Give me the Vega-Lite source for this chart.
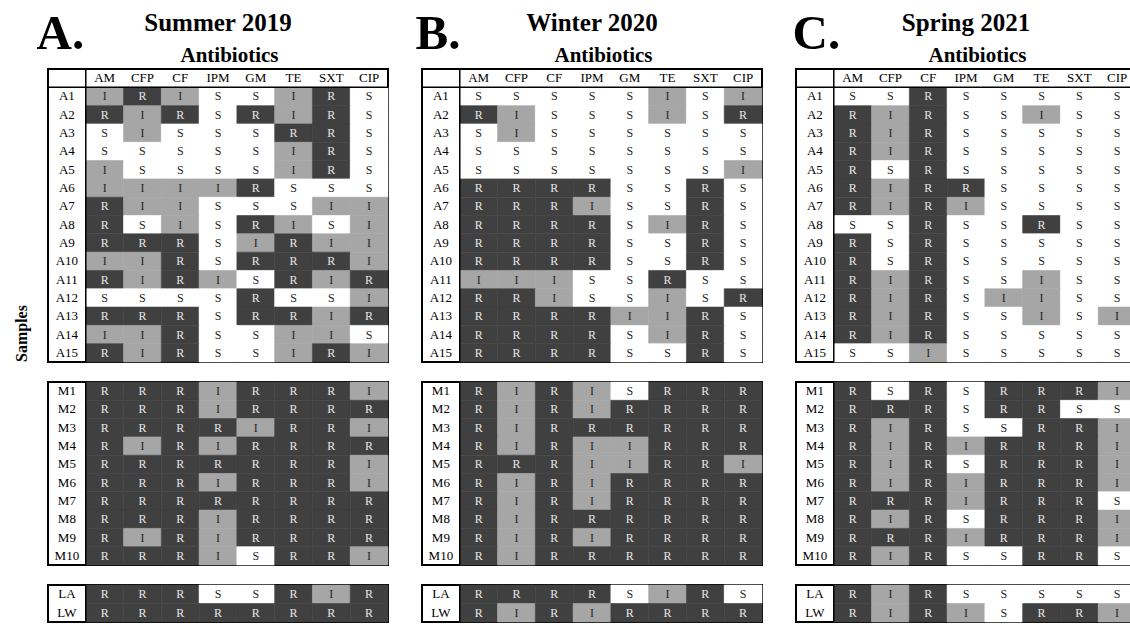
{
  "$schema": "https://vega.github.io/schema/vega-lite/v6.json",
  "background": "white",
  "padding": {"left": 12, "top": 8, "right": 0, "bottom": 0},
  "bounds": "flush",
  "columns": 3,
  "spacing": {"row": 20, "column": 34},
  "datasets": {
    "abx": [{"ab": "AM"}, {"ab": "CFP"}, {"ab": "CF"}, {"ab": "IPM"}, {"ab": "GM"}, {"ab": "TE"}, {"ab": "SXT"}, {"ab": "CIP"}],
    "ast": [
      {"season": "Summer 2019", "block": "A", "sample": "A1", "AM": "I", "CFP": "R", "CF": "I", "IPM": "S", "GM": "S", "TE": "I", "SXT": "R", "CIP": "S"},
      {"season": "Summer 2019", "block": "A", "sample": "A2", "AM": "R", "CFP": "I", "CF": "R", "IPM": "S", "GM": "R", "TE": "I", "SXT": "R", "CIP": "S"},
      {"season": "Summer 2019", "block": "A", "sample": "A3", "AM": "S", "CFP": "I", "CF": "S", "IPM": "S", "GM": "S", "TE": "R", "SXT": "R", "CIP": "S"},
      {"season": "Summer 2019", "block": "A", "sample": "A4", "AM": "S", "CFP": "S", "CF": "S", "IPM": "S", "GM": "S", "TE": "I", "SXT": "R", "CIP": "S"},
      {"season": "Summer 2019", "block": "A", "sample": "A5", "AM": "I", "CFP": "S", "CF": "S", "IPM": "S", "GM": "S", "TE": "I", "SXT": "R", "CIP": "S"},
      {"season": "Summer 2019", "block": "A", "sample": "A6", "AM": "I", "CFP": "I", "CF": "I", "IPM": "I", "GM": "R", "TE": "S", "SXT": "S", "CIP": "S"},
      {"season": "Summer 2019", "block": "A", "sample": "A7", "AM": "R", "CFP": "I", "CF": "I", "IPM": "S", "GM": "S", "TE": "S", "SXT": "I", "CIP": "I"},
      {"season": "Summer 2019", "block": "A", "sample": "A8", "AM": "R", "CFP": "S", "CF": "I", "IPM": "S", "GM": "R", "TE": "I", "SXT": "S", "CIP": "I"},
      {"season": "Summer 2019", "block": "A", "sample": "A9", "AM": "R", "CFP": "R", "CF": "R", "IPM": "S", "GM": "I", "TE": "R", "SXT": "I", "CIP": "I"},
      {"season": "Summer 2019", "block": "A", "sample": "A10", "AM": "I", "CFP": "I", "CF": "R", "IPM": "S", "GM": "R", "TE": "R", "SXT": "R", "CIP": "I"},
      {"season": "Summer 2019", "block": "A", "sample": "A11", "AM": "R", "CFP": "I", "CF": "R", "IPM": "I", "GM": "S", "TE": "R", "SXT": "I", "CIP": "R"},
      {"season": "Summer 2019", "block": "A", "sample": "A12", "AM": "S", "CFP": "S", "CF": "S", "IPM": "S", "GM": "R", "TE": "S", "SXT": "S", "CIP": "I"},
      {"season": "Summer 2019", "block": "A", "sample": "A13", "AM": "R", "CFP": "R", "CF": "R", "IPM": "S", "GM": "R", "TE": "R", "SXT": "I", "CIP": "R"},
      {"season": "Summer 2019", "block": "A", "sample": "A14", "AM": "I", "CFP": "I", "CF": "R", "IPM": "S", "GM": "S", "TE": "I", "SXT": "I", "CIP": "S"},
      {"season": "Summer 2019", "block": "A", "sample": "A15", "AM": "R", "CFP": "I", "CF": "R", "IPM": "S", "GM": "S", "TE": "I", "SXT": "R", "CIP": "I"},
      {"season": "Summer 2019", "block": "M", "sample": "M1", "AM": "R", "CFP": "R", "CF": "R", "IPM": "I", "GM": "R", "TE": "R", "SXT": "R", "CIP": "I"},
      {"season": "Summer 2019", "block": "M", "sample": "M2", "AM": "R", "CFP": "R", "CF": "R", "IPM": "I", "GM": "R", "TE": "R", "SXT": "R", "CIP": "R"},
      {"season": "Summer 2019", "block": "M", "sample": "M3", "AM": "R", "CFP": "R", "CF": "R", "IPM": "R", "GM": "I", "TE": "R", "SXT": "R", "CIP": "I"},
      {"season": "Summer 2019", "block": "M", "sample": "M4", "AM": "R", "CFP": "I", "CF": "R", "IPM": "I", "GM": "R", "TE": "R", "SXT": "R", "CIP": "R"},
      {"season": "Summer 2019", "block": "M", "sample": "M5", "AM": "R", "CFP": "R", "CF": "R", "IPM": "R", "GM": "R", "TE": "R", "SXT": "R", "CIP": "I"},
      {"season": "Summer 2019", "block": "M", "sample": "M6", "AM": "R", "CFP": "R", "CF": "R", "IPM": "I", "GM": "R", "TE": "R", "SXT": "R", "CIP": "I"},
      {"season": "Summer 2019", "block": "M", "sample": "M7", "AM": "R", "CFP": "R", "CF": "R", "IPM": "R", "GM": "R", "TE": "R", "SXT": "R", "CIP": "R"},
      {"season": "Summer 2019", "block": "M", "sample": "M8", "AM": "R", "CFP": "R", "CF": "R", "IPM": "I", "GM": "R", "TE": "R", "SXT": "R", "CIP": "R"},
      {"season": "Summer 2019", "block": "M", "sample": "M9", "AM": "R", "CFP": "I", "CF": "R", "IPM": "I", "GM": "R", "TE": "R", "SXT": "R", "CIP": "R"},
      {"season": "Summer 2019", "block": "M", "sample": "M10", "AM": "R", "CFP": "R", "CF": "R", "IPM": "I", "GM": "S", "TE": "R", "SXT": "R", "CIP": "I"},
      {"season": "Summer 2019", "block": "L", "sample": "LA", "AM": "R", "CFP": "R", "CF": "R", "IPM": "S", "GM": "S", "TE": "R", "SXT": "I", "CIP": "R"},
      {"season": "Summer 2019", "block": "L", "sample": "LW", "AM": "R", "CFP": "R", "CF": "R", "IPM": "R", "GM": "R", "TE": "R", "SXT": "R", "CIP": "R"},
      {"season": "Winter 2020", "block": "A", "sample": "A1", "AM": "S", "CFP": "S", "CF": "S", "IPM": "S", "GM": "S", "TE": "I", "SXT": "S", "CIP": "I"},
      {"season": "Winter 2020", "block": "A", "sample": "A2", "AM": "R", "CFP": "I", "CF": "S", "IPM": "S", "GM": "S", "TE": "I", "SXT": "S", "CIP": "R"},
      {"season": "Winter 2020", "block": "A", "sample": "A3", "AM": "S", "CFP": "I", "CF": "S", "IPM": "S", "GM": "S", "TE": "S", "SXT": "S", "CIP": "S"},
      {"season": "Winter 2020", "block": "A", "sample": "A4", "AM": "S", "CFP": "S", "CF": "S", "IPM": "S", "GM": "S", "TE": "S", "SXT": "S", "CIP": "S"},
      {"season": "Winter 2020", "block": "A", "sample": "A5", "AM": "S", "CFP": "S", "CF": "S", "IPM": "S", "GM": "S", "TE": "S", "SXT": "S", "CIP": "I"},
      {"season": "Winter 2020", "block": "A", "sample": "A6", "AM": "R", "CFP": "R", "CF": "R", "IPM": "R", "GM": "S", "TE": "S", "SXT": "R", "CIP": "S"},
      {"season": "Winter 2020", "block": "A", "sample": "A7", "AM": "R", "CFP": "R", "CF": "R", "IPM": "I", "GM": "S", "TE": "S", "SXT": "R", "CIP": "S"},
      {"season": "Winter 2020", "block": "A", "sample": "A8", "AM": "R", "CFP": "R", "CF": "R", "IPM": "R", "GM": "S", "TE": "I", "SXT": "R", "CIP": "S"},
      {"season": "Winter 2020", "block": "A", "sample": "A9", "AM": "R", "CFP": "R", "CF": "R", "IPM": "R", "GM": "S", "TE": "S", "SXT": "R", "CIP": "S"},
      {"season": "Winter 2020", "block": "A", "sample": "A10", "AM": "R", "CFP": "R", "CF": "R", "IPM": "R", "GM": "S", "TE": "S", "SXT": "R", "CIP": "S"},
      {"season": "Winter 2020", "block": "A", "sample": "A11", "AM": "I", "CFP": "I", "CF": "I", "IPM": "S", "GM": "S", "TE": "R", "SXT": "S", "CIP": "S"},
      {"season": "Winter 2020", "block": "A", "sample": "A12", "AM": "R", "CFP": "R", "CF": "I", "IPM": "S", "GM": "S", "TE": "I", "SXT": "S", "CIP": "R"},
      {"season": "Winter 2020", "block": "A", "sample": "A13", "AM": "R", "CFP": "R", "CF": "R", "IPM": "R", "GM": "I", "TE": "I", "SXT": "R", "CIP": "S"},
      {"season": "Winter 2020", "block": "A", "sample": "A14", "AM": "R", "CFP": "R", "CF": "R", "IPM": "R", "GM": "S", "TE": "I", "SXT": "R", "CIP": "S"},
      {"season": "Winter 2020", "block": "A", "sample": "A15", "AM": "R", "CFP": "R", "CF": "R", "IPM": "R", "GM": "S", "TE": "S", "SXT": "R", "CIP": "S"},
      {"season": "Winter 2020", "block": "M", "sample": "M1", "AM": "R", "CFP": "I", "CF": "R", "IPM": "I", "GM": "S", "TE": "R", "SXT": "R", "CIP": "R"},
      {"season": "Winter 2020", "block": "M", "sample": "M2", "AM": "R", "CFP": "I", "CF": "R", "IPM": "I", "GM": "R", "TE": "R", "SXT": "R", "CIP": "R"},
      {"season": "Winter 2020", "block": "M", "sample": "M3", "AM": "R", "CFP": "I", "CF": "R", "IPM": "R", "GM": "R", "TE": "R", "SXT": "R", "CIP": "R"},
      {"season": "Winter 2020", "block": "M", "sample": "M4", "AM": "R", "CFP": "I", "CF": "R", "IPM": "I", "GM": "I", "TE": "R", "SXT": "R", "CIP": "R"},
      {"season": "Winter 2020", "block": "M", "sample": "M5", "AM": "R", "CFP": "R", "CF": "R", "IPM": "I", "GM": "I", "TE": "R", "SXT": "R", "CIP": "I"},
      {"season": "Winter 2020", "block": "M", "sample": "M6", "AM": "R", "CFP": "I", "CF": "R", "IPM": "I", "GM": "R", "TE": "R", "SXT": "R", "CIP": "R"},
      {"season": "Winter 2020", "block": "M", "sample": "M7", "AM": "R", "CFP": "I", "CF": "R", "IPM": "I", "GM": "R", "TE": "R", "SXT": "R", "CIP": "R"},
      {"season": "Winter 2020", "block": "M", "sample": "M8", "AM": "R", "CFP": "I", "CF": "R", "IPM": "R", "GM": "R", "TE": "R", "SXT": "R", "CIP": "R"},
      {"season": "Winter 2020", "block": "M", "sample": "M9", "AM": "R", "CFP": "I", "CF": "R", "IPM": "I", "GM": "R", "TE": "R", "SXT": "R", "CIP": "R"},
      {"season": "Winter 2020", "block": "M", "sample": "M10", "AM": "R", "CFP": "I", "CF": "R", "IPM": "R", "GM": "R", "TE": "R", "SXT": "R", "CIP": "R"},
      {"season": "Winter 2020", "block": "L", "sample": "LA", "AM": "R", "CFP": "R", "CF": "R", "IPM": "R", "GM": "S", "TE": "I", "SXT": "R", "CIP": "S"},
      {"season": "Winter 2020", "block": "L", "sample": "LW", "AM": "R", "CFP": "I", "CF": "R", "IPM": "I", "GM": "R", "TE": "R", "SXT": "R", "CIP": "R"},
      {"season": "Spring 2021", "block": "A", "sample": "A1", "AM": "S", "CFP": "S", "CF": "R", "IPM": "S", "GM": "S", "TE": "S", "SXT": "S", "CIP": "S"},
      {"season": "Spring 2021", "block": "A", "sample": "A2", "AM": "R", "CFP": "I", "CF": "R", "IPM": "S", "GM": "S", "TE": "I", "SXT": "S", "CIP": "S"},
      {"season": "Spring 2021", "block": "A", "sample": "A3", "AM": "R", "CFP": "I", "CF": "R", "IPM": "S", "GM": "S", "TE": "S", "SXT": "S", "CIP": "S"},
      {"season": "Spring 2021", "block": "A", "sample": "A4", "AM": "R", "CFP": "I", "CF": "R", "IPM": "S", "GM": "S", "TE": "S", "SXT": "S", "CIP": "S"},
      {"season": "Spring 2021", "block": "A", "sample": "A5", "AM": "R", "CFP": "S", "CF": "R", "IPM": "S", "GM": "S", "TE": "S", "SXT": "S", "CIP": "S"},
      {"season": "Spring 2021", "block": "A", "sample": "A6", "AM": "R", "CFP": "I", "CF": "R", "IPM": "R", "GM": "S", "TE": "S", "SXT": "S", "CIP": "S"},
      {"season": "Spring 2021", "block": "A", "sample": "A7", "AM": "R", "CFP": "I", "CF": "R", "IPM": "I", "GM": "S", "TE": "S", "SXT": "S", "CIP": "S"},
      {"season": "Spring 2021", "block": "A", "sample": "A8", "AM": "S", "CFP": "S", "CF": "R", "IPM": "S", "GM": "S", "TE": "R", "SXT": "S", "CIP": "S"},
      {"season": "Spring 2021", "block": "A", "sample": "A9", "AM": "R", "CFP": "S", "CF": "R", "IPM": "S", "GM": "S", "TE": "S", "SXT": "S", "CIP": "S"},
      {"season": "Spring 2021", "block": "A", "sample": "A10", "AM": "R", "CFP": "S", "CF": "R", "IPM": "S", "GM": "S", "TE": "S", "SXT": "S", "CIP": "S"},
      {"season": "Spring 2021", "block": "A", "sample": "A11", "AM": "R", "CFP": "I", "CF": "R", "IPM": "S", "GM": "S", "TE": "I", "SXT": "S", "CIP": "S"},
      {"season": "Spring 2021", "block": "A", "sample": "A12", "AM": "R", "CFP": "I", "CF": "R", "IPM": "S", "GM": "I", "TE": "I", "SXT": "S", "CIP": "S"},
      {"season": "Spring 2021", "block": "A", "sample": "A13", "AM": "R", "CFP": "I", "CF": "R", "IPM": "S", "GM": "S", "TE": "I", "SXT": "S", "CIP": "I"},
      {"season": "Spring 2021", "block": "A", "sample": "A14", "AM": "R", "CFP": "I", "CF": "R", "IPM": "S", "GM": "S", "TE": "S", "SXT": "S", "CIP": "S"},
      {"season": "Spring 2021", "block": "A", "sample": "A15", "AM": "S", "CFP": "S", "CF": "I", "IPM": "S", "GM": "S", "TE": "S", "SXT": "S", "CIP": "S"},
      {"season": "Spring 2021", "block": "M", "sample": "M1", "AM": "R", "CFP": "S", "CF": "R", "IPM": "S", "GM": "R", "TE": "R", "SXT": "R", "CIP": "I"},
      {"season": "Spring 2021", "block": "M", "sample": "M2", "AM": "R", "CFP": "R", "CF": "R", "IPM": "S", "GM": "R", "TE": "R", "SXT": "S", "CIP": "S"},
      {"season": "Spring 2021", "block": "M", "sample": "M3", "AM": "R", "CFP": "I", "CF": "R", "IPM": "S", "GM": "S", "TE": "R", "SXT": "R", "CIP": "I"},
      {"season": "Spring 2021", "block": "M", "sample": "M4", "AM": "R", "CFP": "I", "CF": "R", "IPM": "I", "GM": "R", "TE": "R", "SXT": "R", "CIP": "I"},
      {"season": "Spring 2021", "block": "M", "sample": "M5", "AM": "R", "CFP": "I", "CF": "R", "IPM": "S", "GM": "R", "TE": "R", "SXT": "R", "CIP": "I"},
      {"season": "Spring 2021", "block": "M", "sample": "M6", "AM": "R", "CFP": "I", "CF": "R", "IPM": "I", "GM": "R", "TE": "R", "SXT": "R", "CIP": "I"},
      {"season": "Spring 2021", "block": "M", "sample": "M7", "AM": "R", "CFP": "R", "CF": "R", "IPM": "I", "GM": "R", "TE": "R", "SXT": "R", "CIP": "S"},
      {"season": "Spring 2021", "block": "M", "sample": "M8", "AM": "R", "CFP": "I", "CF": "R", "IPM": "S", "GM": "R", "TE": "R", "SXT": "R", "CIP": "I"},
      {"season": "Spring 2021", "block": "M", "sample": "M9", "AM": "R", "CFP": "R", "CF": "R", "IPM": "I", "GM": "R", "TE": "R", "SXT": "R", "CIP": "I"},
      {"season": "Spring 2021", "block": "M", "sample": "M10", "AM": "R", "CFP": "I", "CF": "R", "IPM": "S", "GM": "S", "TE": "R", "SXT": "R", "CIP": "S"},
      {"season": "Spring 2021", "block": "L", "sample": "LA", "AM": "R", "CFP": "I", "CF": "R", "IPM": "S", "GM": "S", "TE": "S", "SXT": "S", "CIP": "S"},
      {"season": "Spring 2021", "block": "L", "sample": "LW", "AM": "R", "CFP": "I", "CF": "R", "IPM": "I", "GM": "S", "TE": "R", "SXT": "R", "CIP": "I"}
    ]
  },
  "concat": [
    {
      "width": 340, "height": 293,
      "title": "Summer 2019",
      "layer": [
        {
          "data": {"name": "ast"},
          "transform": [
            {"filter": "datum.season === 'Summer 2019' && datum.block === 'A'"},
            {"fold": ["AM", "CFP", "CF", "IPM", "GM", "TE", "SXT", "CIP"], "as": ["ab", "r"]}
          ],
          "layer": [
            {
              "mark": {"type": "rect", "strokeWidth": 0.6},
              "encoding": {
                "x": {"field": "ab", "type": "nominal", "scale": {"type": "band", "domain": ["_", "AM", "CFP", "CF", "IPM", "GM", "TE", "SXT", "CIP"], "paddingInner": 0, "paddingOuter": 0},
                      "axis": {"orient": "top", "title": "Antibiotics", "titleFontSize": 21, "titleX": 181, "titleY": -8, "titleAlign": "center", "titleBaseline": "alphabetic", "titleAngle": 0}},
                "y": {"field": "sample", "type": "nominal", "scale": {"type": "band", "domain": ["hdr", "A1", "A2", "A3", "A4", "A5", "A6", "A7", "A8", "A9", "A10", "A11", "A12", "A13", "A14", "A15"], "paddingInner": 0, "paddingOuter": 0},
                      "axis": {"title": "Samples", "titleFontSize": 16, "titleAngle": -90, "titleX": -27, "titleY": 264, "titleAlign": "center", "titleBaseline": "middle"}},
                "fill": {"field": "r", "type": "nominal", "scale": {"domain": ["R", "I", "S"], "range": ["#404040", "#a6a6a6", "#ffffff"]}, "legend": null},
                "stroke": {"field": "r", "type": "nominal", "scale": {"domain": ["R", "I", "S"], "range": ["#404040", "#a6a6a6", "#ffffff"]}, "legend": null}
              }
            },
            {
              "mark": {"type": "text", "font": "Liberation Serif", "fontSize": 12},
              "encoding": {
                "x": {"field": "ab", "type": "nominal"},
                "y": {"field": "sample", "type": "nominal"},
                "text": {"field": "r"},
                "color": {"condition": {"test": "datum.r === 'R'", "value": "#e6e6e6"}, "value": "#262626"}
              }
            }
          ]
        },
        {
          "data": {"name": "ast"},
          "transform": [{"filter": "datum.season === 'Summer 2019' && datum.block === 'A'"}],
          "mark": {"type": "text", "font": "Liberation Serif", "fontSize": 13, "color": "#000000"},
          "encoding": {"x": {"datum": "_", "type": "nominal"}, "y": {"field": "sample", "type": "nominal"}, "text": {"field": "sample"}}
        },
        {
          "data": {"name": "abx"},
          "mark": {"type": "text", "font": "Liberation Serif", "fontSize": 13, "color": "#000000"},
          "encoding": {"x": {"field": "ab", "type": "nominal"}, "y": {"datum": "hdr", "type": "nominal"}, "text": {"field": "ab"}}
        },
        {
          "data": {"values": [{}]},
          "mark": {"type": "rule", "color": "#000000", "strokeWidth": 1.5},
          "encoding": {"x": {"datum": "AM", "type": "nominal", "bandPosition": 0}}
        },
        {
          "data": {"values": [{}]},
          "mark": {"type": "rule", "color": "#000000", "strokeWidth": 1.5},
          "encoding": {"y": {"datum": "A1", "type": "nominal", "bandPosition": 0}}
        }
      ]
    },
    {
      "width": 340, "height": 293,
      "title": "Winter 2020",
      "layer": [
        {
          "data": {"name": "ast"},
          "transform": [
            {"filter": "datum.season === 'Winter 2020' && datum.block === 'A'"},
            {"fold": ["AM", "CFP", "CF", "IPM", "GM", "TE", "SXT", "CIP"], "as": ["ab", "r"]}
          ],
          "layer": [
            {
              "mark": {"type": "rect", "strokeWidth": 0.6},
              "encoding": {
                "x": {"field": "ab", "type": "nominal", "scale": {"type": "band", "domain": ["_", "AM", "CFP", "CF", "IPM", "GM", "TE", "SXT", "CIP"], "paddingInner": 0, "paddingOuter": 0},
                      "axis": {"orient": "top", "title": "Antibiotics", "titleFontSize": 21, "titleX": 181, "titleY": -8, "titleAlign": "center", "titleBaseline": "alphabetic", "titleAngle": 0}},
                "y": {"field": "sample", "type": "nominal", "scale": {"type": "band", "domain": ["hdr", "A1", "A2", "A3", "A4", "A5", "A6", "A7", "A8", "A9", "A10", "A11", "A12", "A13", "A14", "A15"], "paddingInner": 0, "paddingOuter": 0}, "axis": null},
                "fill": {"field": "r", "type": "nominal", "scale": {"domain": ["R", "I", "S"], "range": ["#404040", "#a6a6a6", "#ffffff"]}, "legend": null},
                "stroke": {"field": "r", "type": "nominal", "scale": {"domain": ["R", "I", "S"], "range": ["#404040", "#a6a6a6", "#ffffff"]}, "legend": null}
              }
            },
            {
              "mark": {"type": "text", "font": "Liberation Serif", "fontSize": 12},
              "encoding": {
                "x": {"field": "ab", "type": "nominal"},
                "y": {"field": "sample", "type": "nominal", "axis": null},
                "text": {"field": "r"},
                "color": {"condition": {"test": "datum.r === 'R'", "value": "#e6e6e6"}, "value": "#262626"}
              }
            }
          ]
        },
        {
          "data": {"name": "ast"},
          "transform": [{"filter": "datum.season === 'Winter 2020' && datum.block === 'A'"}],
          "mark": {"type": "text", "font": "Liberation Serif", "fontSize": 13, "color": "#000000"},
          "encoding": {"x": {"datum": "_", "type": "nominal"}, "y": {"field": "sample", "type": "nominal", "axis": null}, "text": {"field": "sample"}}
        },
        {
          "data": {"name": "abx"},
          "mark": {"type": "text", "font": "Liberation Serif", "fontSize": 13, "color": "#000000"},
          "encoding": {"x": {"field": "ab", "type": "nominal"}, "y": {"datum": "hdr", "type": "nominal", "axis": null}, "text": {"field": "ab"}}
        },
        {
          "data": {"values": [{}]},
          "mark": {"type": "rule", "color": "#000000", "strokeWidth": 1.5},
          "encoding": {"x": {"datum": "AM", "type": "nominal", "bandPosition": 0}}
        },
        {
          "data": {"values": [{}]},
          "mark": {"type": "rule", "color": "#000000", "strokeWidth": 1.5},
          "encoding": {"y": {"datum": "A1", "type": "nominal", "bandPosition": 0, "axis": null}}
        }
      ]
    },
    {
      "width": 340, "height": 293,
      "title": "Spring 2021",
      "layer": [
        {
          "data": {"name": "ast"},
          "transform": [
            {"filter": "datum.season === 'Spring 2021' && datum.block === 'A'"},
            {"fold": ["AM", "CFP", "CF", "IPM", "GM", "TE", "SXT", "CIP"], "as": ["ab", "r"]}
          ],
          "layer": [
            {
              "mark": {"type": "rect", "strokeWidth": 0.6},
              "encoding": {
                "x": {"field": "ab", "type": "nominal", "scale": {"type": "band", "domain": ["_", "AM", "CFP", "CF", "IPM", "GM", "TE", "SXT", "CIP"], "paddingInner": 0, "paddingOuter": 0},
                      "axis": {"orient": "top", "title": "Antibiotics", "titleFontSize": 21, "titleX": 181, "titleY": -8, "titleAlign": "center", "titleBaseline": "alphabetic", "titleAngle": 0}},
                "y": {"field": "sample", "type": "nominal", "scale": {"type": "band", "domain": ["hdr", "A1", "A2", "A3", "A4", "A5", "A6", "A7", "A8", "A9", "A10", "A11", "A12", "A13", "A14", "A15"], "paddingInner": 0, "paddingOuter": 0}, "axis": null},
                "fill": {"field": "r", "type": "nominal", "scale": {"domain": ["R", "I", "S"], "range": ["#404040", "#a6a6a6", "#ffffff"]}, "legend": null},
                "stroke": {"field": "r", "type": "nominal", "scale": {"domain": ["R", "I", "S"], "range": ["#404040", "#a6a6a6", "#ffffff"]}, "legend": null}
              }
            },
            {
              "mark": {"type": "text", "font": "Liberation Serif", "fontSize": 12},
              "encoding": {
                "x": {"field": "ab", "type": "nominal"},
                "y": {"field": "sample", "type": "nominal", "axis": null},
                "text": {"field": "r"},
                "color": {"condition": {"test": "datum.r === 'R'", "value": "#e6e6e6"}, "value": "#262626"}
              }
            }
          ]
        },
        {
          "data": {"name": "ast"},
          "transform": [{"filter": "datum.season === 'Spring 2021' && datum.block === 'A'"}],
          "mark": {"type": "text", "font": "Liberation Serif", "fontSize": 13, "color": "#000000"},
          "encoding": {"x": {"datum": "_", "type": "nominal"}, "y": {"field": "sample", "type": "nominal", "axis": null}, "text": {"field": "sample"}}
        },
        {
          "data": {"name": "abx"},
          "mark": {"type": "text", "font": "Liberation Serif", "fontSize": 13, "color": "#000000"},
          "encoding": {"x": {"field": "ab", "type": "nominal"}, "y": {"datum": "hdr", "type": "nominal", "axis": null}, "text": {"field": "ab"}}
        },
        {
          "data": {"values": [{}]},
          "mark": {"type": "rule", "color": "#000000", "strokeWidth": 1.5},
          "encoding": {"x": {"datum": "AM", "type": "nominal", "bandPosition": 0}}
        },
        {
          "data": {"values": [{}]},
          "mark": {"type": "rule", "color": "#000000", "strokeWidth": 1.5},
          "encoding": {"y": {"datum": "A1", "type": "nominal", "bandPosition": 0, "axis": null}}
        }
      ]
    },
    {
      "width": 340, "height": 183,
      "layer": [
        {
          "data": {"name": "ast"},
          "transform": [
            {"filter": "datum.season === 'Summer 2019' && datum.block === 'M'"},
            {"fold": ["AM", "CFP", "CF", "IPM", "GM", "TE", "SXT", "CIP"], "as": ["ab", "r"]}
          ],
          "layer": [
            {
              "mark": {"type": "rect", "strokeWidth": 0.6},
              "encoding": {
                "x": {"field": "ab", "type": "nominal", "scale": {"type": "band", "domain": ["_", "AM", "CFP", "CF", "IPM", "GM", "TE", "SXT", "CIP"], "paddingInner": 0, "paddingOuter": 0}, "axis": null},
                "y": {"field": "sample", "type": "nominal", "scale": {"type": "band", "domain": ["M1", "M2", "M3", "M4", "M5", "M6", "M7", "M8", "M9", "M10"], "paddingInner": 0, "paddingOuter": 0},
                      "axis": {"title": "A.", "titleFontSize": 49, "titleAngle": 0, "titleX": -12, "titleY": -334, "titleAlign": "left", "titleBaseline": "alphabetic"}},
                "fill": {"field": "r", "type": "nominal", "scale": {"domain": ["R", "I", "S"], "range": ["#404040", "#a6a6a6", "#ffffff"]}, "legend": null},
                "stroke": {"field": "r", "type": "nominal", "scale": {"domain": ["R", "I", "S"], "range": ["#404040", "#a6a6a6", "#ffffff"]}, "legend": null}
              }
            },
            {
              "mark": {"type": "text", "font": "Liberation Serif", "fontSize": 12},
              "encoding": {
                "x": {"field": "ab", "type": "nominal", "axis": null},
                "y": {"field": "sample", "type": "nominal"},
                "text": {"field": "r"},
                "color": {"condition": {"test": "datum.r === 'R'", "value": "#e6e6e6"}, "value": "#262626"}
              }
            }
          ]
        },
        {
          "data": {"name": "ast"},
          "transform": [{"filter": "datum.season === 'Summer 2019' && datum.block === 'M'"}],
          "mark": {"type": "text", "font": "Liberation Serif", "fontSize": 13, "color": "#000000"},
          "encoding": {"x": {"datum": "_", "type": "nominal", "axis": null}, "y": {"field": "sample", "type": "nominal"}, "text": {"field": "sample"}}
        },
        {
          "data": {"values": [{}]},
          "mark": {"type": "rule", "color": "#000000", "strokeWidth": 1.5},
          "encoding": {"x": {"datum": "AM", "type": "nominal", "bandPosition": 0, "axis": null}}
        }
      ]
    },
    {
      "width": 340, "height": 183,
      "layer": [
        {
          "data": {"name": "ast"},
          "transform": [
            {"filter": "datum.season === 'Winter 2020' && datum.block === 'M'"},
            {"fold": ["AM", "CFP", "CF", "IPM", "GM", "TE", "SXT", "CIP"], "as": ["ab", "r"]}
          ],
          "layer": [
            {
              "mark": {"type": "rect", "strokeWidth": 0.6},
              "encoding": {
                "x": {"field": "ab", "type": "nominal", "scale": {"type": "band", "domain": ["_", "AM", "CFP", "CF", "IPM", "GM", "TE", "SXT", "CIP"], "paddingInner": 0, "paddingOuter": 0}, "axis": null},
                "y": {"field": "sample", "type": "nominal", "scale": {"type": "band", "domain": ["M1", "M2", "M3", "M4", "M5", "M6", "M7", "M8", "M9", "M10"], "paddingInner": 0, "paddingOuter": 0},
                      "axis": {"title": "B.", "titleFontSize": 49, "titleAngle": 0, "titleX": -7, "titleY": -334, "titleAlign": "left", "titleBaseline": "alphabetic"}},
                "fill": {"field": "r", "type": "nominal", "scale": {"domain": ["R", "I", "S"], "range": ["#404040", "#a6a6a6", "#ffffff"]}, "legend": null},
                "stroke": {"field": "r", "type": "nominal", "scale": {"domain": ["R", "I", "S"], "range": ["#404040", "#a6a6a6", "#ffffff"]}, "legend": null}
              }
            },
            {
              "mark": {"type": "text", "font": "Liberation Serif", "fontSize": 12},
              "encoding": {
                "x": {"field": "ab", "type": "nominal", "axis": null},
                "y": {"field": "sample", "type": "nominal"},
                "text": {"field": "r"},
                "color": {"condition": {"test": "datum.r === 'R'", "value": "#e6e6e6"}, "value": "#262626"}
              }
            }
          ]
        },
        {
          "data": {"name": "ast"},
          "transform": [{"filter": "datum.season === 'Winter 2020' && datum.block === 'M'"}],
          "mark": {"type": "text", "font": "Liberation Serif", "fontSize": 13, "color": "#000000"},
          "encoding": {"x": {"datum": "_", "type": "nominal", "axis": null}, "y": {"field": "sample", "type": "nominal"}, "text": {"field": "sample"}}
        },
        {
          "data": {"values": [{}]},
          "mark": {"type": "rule", "color": "#000000", "strokeWidth": 1.5},
          "encoding": {"x": {"datum": "AM", "type": "nominal", "bandPosition": 0, "axis": null}}
        }
      ]
    },
    {
      "width": 340, "height": 183,
      "layer": [
        {
          "data": {"name": "ast"},
          "transform": [
            {"filter": "datum.season === 'Spring 2021' && datum.block === 'M'"},
            {"fold": ["AM", "CFP", "CF", "IPM", "GM", "TE", "SXT", "CIP"], "as": ["ab", "r"]}
          ],
          "layer": [
            {
              "mark": {"type": "rect", "strokeWidth": 0.6},
              "encoding": {
                "x": {"field": "ab", "type": "nominal", "scale": {"type": "band", "domain": ["_", "AM", "CFP", "CF", "IPM", "GM", "TE", "SXT", "CIP"], "paddingInner": 0, "paddingOuter": 0}, "axis": null},
                "y": {"field": "sample", "type": "nominal", "scale": {"type": "band", "domain": ["M1", "M2", "M3", "M4", "M5", "M6", "M7", "M8", "M9", "M10"], "paddingInner": 0, "paddingOuter": 0},
                      "axis": {"title": "C.", "titleFontSize": 49, "titleAngle": 0, "titleX": -4, "titleY": -334, "titleAlign": "left", "titleBaseline": "alphabetic"}},
                "fill": {"field": "r", "type": "nominal", "scale": {"domain": ["R", "I", "S"], "range": ["#404040", "#a6a6a6", "#ffffff"]}, "legend": null},
                "stroke": {"field": "r", "type": "nominal", "scale": {"domain": ["R", "I", "S"], "range": ["#404040", "#a6a6a6", "#ffffff"]}, "legend": null}
              }
            },
            {
              "mark": {"type": "text", "font": "Liberation Serif", "fontSize": 12},
              "encoding": {
                "x": {"field": "ab", "type": "nominal", "axis": null},
                "y": {"field": "sample", "type": "nominal"},
                "text": {"field": "r"},
                "color": {"condition": {"test": "datum.r === 'R'", "value": "#e6e6e6"}, "value": "#262626"}
              }
            }
          ]
        },
        {
          "data": {"name": "ast"},
          "transform": [{"filter": "datum.season === 'Spring 2021' && datum.block === 'M'"}],
          "mark": {"type": "text", "font": "Liberation Serif", "fontSize": 13, "color": "#000000"},
          "encoding": {"x": {"datum": "_", "type": "nominal", "axis": null}, "y": {"field": "sample", "type": "nominal"}, "text": {"field": "sample"}}
        },
        {
          "data": {"values": [{}]},
          "mark": {"type": "rule", "color": "#000000", "strokeWidth": 1.5},
          "encoding": {"x": {"datum": "AM", "type": "nominal", "bandPosition": 0, "axis": null}}
        }
      ]
    },
    {
      "width": 340, "height": 37,
      "layer": [
        {
          "data": {"name": "ast"},
          "transform": [
            {"filter": "datum.season === 'Summer 2019' && datum.block === 'L'"},
            {"fold": ["AM", "CFP", "CF", "IPM", "GM", "TE", "SXT", "CIP"], "as": ["ab", "r"]}
          ],
          "layer": [
            {
              "mark": {"type": "rect", "strokeWidth": 0.6},
              "encoding": {
                "x": {"field": "ab", "type": "nominal", "scale": {"type": "band", "domain": ["_", "AM", "CFP", "CF", "IPM", "GM", "TE", "SXT", "CIP"], "paddingInner": 0, "paddingOuter": 0}, "axis": null},
                "y": {"field": "sample", "type": "nominal", "scale": {"type": "band", "domain": ["LA", "LW"], "paddingInner": 0, "paddingOuter": 0}, "axis": null},
                "fill": {"field": "r", "type": "nominal", "scale": {"domain": ["R", "I", "S"], "range": ["#404040", "#a6a6a6", "#ffffff"]}, "legend": null},
                "stroke": {"field": "r", "type": "nominal", "scale": {"domain": ["R", "I", "S"], "range": ["#404040", "#a6a6a6", "#ffffff"]}, "legend": null}
              }
            },
            {
              "mark": {"type": "text", "font": "Liberation Serif", "fontSize": 12},
              "encoding": {
                "x": {"field": "ab", "type": "nominal", "axis": null},
                "y": {"field": "sample", "type": "nominal", "axis": null},
                "text": {"field": "r"},
                "color": {"condition": {"test": "datum.r === 'R'", "value": "#e6e6e6"}, "value": "#262626"}
              }
            }
          ]
        },
        {
          "data": {"name": "ast"},
          "transform": [{"filter": "datum.season === 'Summer 2019' && datum.block === 'L'"}],
          "mark": {"type": "text", "font": "Liberation Serif", "fontSize": 13, "color": "#000000"},
          "encoding": {"x": {"datum": "_", "type": "nominal", "axis": null}, "y": {"field": "sample", "type": "nominal", "axis": null}, "text": {"field": "sample"}}
        },
        {
          "data": {"values": [{}]},
          "mark": {"type": "rule", "color": "#000000", "strokeWidth": 1.5},
          "encoding": {"x": {"datum": "AM", "type": "nominal", "bandPosition": 0, "axis": null}}
        }
      ]
    },
    {
      "width": 340, "height": 37,
      "layer": [
        {
          "data": {"name": "ast"},
          "transform": [
            {"filter": "datum.season === 'Winter 2020' && datum.block === 'L'"},
            {"fold": ["AM", "CFP", "CF", "IPM", "GM", "TE", "SXT", "CIP"], "as": ["ab", "r"]}
          ],
          "layer": [
            {
              "mark": {"type": "rect", "strokeWidth": 0.6},
              "encoding": {
                "x": {"field": "ab", "type": "nominal", "scale": {"type": "band", "domain": ["_", "AM", "CFP", "CF", "IPM", "GM", "TE", "SXT", "CIP"], "paddingInner": 0, "paddingOuter": 0}, "axis": null},
                "y": {"field": "sample", "type": "nominal", "scale": {"type": "band", "domain": ["LA", "LW"], "paddingInner": 0, "paddingOuter": 0}, "axis": null},
                "fill": {"field": "r", "type": "nominal", "scale": {"domain": ["R", "I", "S"], "range": ["#404040", "#a6a6a6", "#ffffff"]}, "legend": null},
                "stroke": {"field": "r", "type": "nominal", "scale": {"domain": ["R", "I", "S"], "range": ["#404040", "#a6a6a6", "#ffffff"]}, "legend": null}
              }
            },
            {
              "mark": {"type": "text", "font": "Liberation Serif", "fontSize": 12},
              "encoding": {
                "x": {"field": "ab", "type": "nominal", "axis": null},
                "y": {"field": "sample", "type": "nominal", "axis": null},
                "text": {"field": "r"},
                "color": {"condition": {"test": "datum.r === 'R'", "value": "#e6e6e6"}, "value": "#262626"}
              }
            }
          ]
        },
        {
          "data": {"name": "ast"},
          "transform": [{"filter": "datum.season === 'Winter 2020' && datum.block === 'L'"}],
          "mark": {"type": "text", "font": "Liberation Serif", "fontSize": 13, "color": "#000000"},
          "encoding": {"x": {"datum": "_", "type": "nominal", "axis": null}, "y": {"field": "sample", "type": "nominal", "axis": null}, "text": {"field": "sample"}}
        },
        {
          "data": {"values": [{}]},
          "mark": {"type": "rule", "color": "#000000", "strokeWidth": 1.5},
          "encoding": {"x": {"datum": "AM", "type": "nominal", "bandPosition": 0, "axis": null}}
        }
      ]
    },
    {
      "width": 340, "height": 37,
      "layer": [
        {
          "data": {"name": "ast"},
          "transform": [
            {"filter": "datum.season === 'Spring 2021' && datum.block === 'L'"},
            {"fold": ["AM", "CFP", "CF", "IPM", "GM", "TE", "SXT", "CIP"], "as": ["ab", "r"]}
          ],
          "layer": [
            {
              "mark": {"type": "rect", "strokeWidth": 0.6},
              "encoding": {
                "x": {"field": "ab", "type": "nominal", "scale": {"type": "band", "domain": ["_", "AM", "CFP", "CF", "IPM", "GM", "TE", "SXT", "CIP"], "paddingInner": 0, "paddingOuter": 0}, "axis": null},
                "y": {"field": "sample", "type": "nominal", "scale": {"type": "band", "domain": ["LA", "LW"], "paddingInner": 0, "paddingOuter": 0}, "axis": null},
                "fill": {"field": "r", "type": "nominal", "scale": {"domain": ["R", "I", "S"], "range": ["#404040", "#a6a6a6", "#ffffff"]}, "legend": null},
                "stroke": {"field": "r", "type": "nominal", "scale": {"domain": ["R", "I", "S"], "range": ["#404040", "#a6a6a6", "#ffffff"]}, "legend": null}
              }
            },
            {
              "mark": {"type": "text", "font": "Liberation Serif", "fontSize": 12},
              "encoding": {
                "x": {"field": "ab", "type": "nominal", "axis": null},
                "y": {"field": "sample", "type": "nominal", "axis": null},
                "text": {"field": "r"},
                "color": {"condition": {"test": "datum.r === 'R'", "value": "#e6e6e6"}, "value": "#262626"}
              }
            }
          ]
        },
        {
          "data": {"name": "ast"},
          "transform": [{"filter": "datum.season === 'Spring 2021' && datum.block === 'L'"}],
          "mark": {"type": "text", "font": "Liberation Serif", "fontSize": 13, "color": "#000000"},
          "encoding": {"x": {"datum": "_", "type": "nominal", "axis": null}, "y": {"field": "sample", "type": "nominal", "axis": null}, "text": {"field": "sample"}}
        },
        {
          "data": {"values": [{}]},
          "mark": {"type": "rule", "color": "#000000", "strokeWidth": 1.5},
          "encoding": {"x": {"datum": "AM", "type": "nominal", "bandPosition": 0, "axis": null}}
        }
      ]
    }
  ],
  "config": {
    "view": {"stroke": "#000000", "strokeWidth": 2},
    "axis": {"labels": false, "ticks": false, "domain": false, "grid": false, "titleFont": "Liberation Serif", "titleFontWeight": "bold", "titleColor": "#000000", "titlePadding": 0},
    "title": {"font": "Liberation Serif", "fontSize": 25, "fontWeight": "bold", "color": "#000000", "anchor": "middle", "offset": 8}
  }
}
